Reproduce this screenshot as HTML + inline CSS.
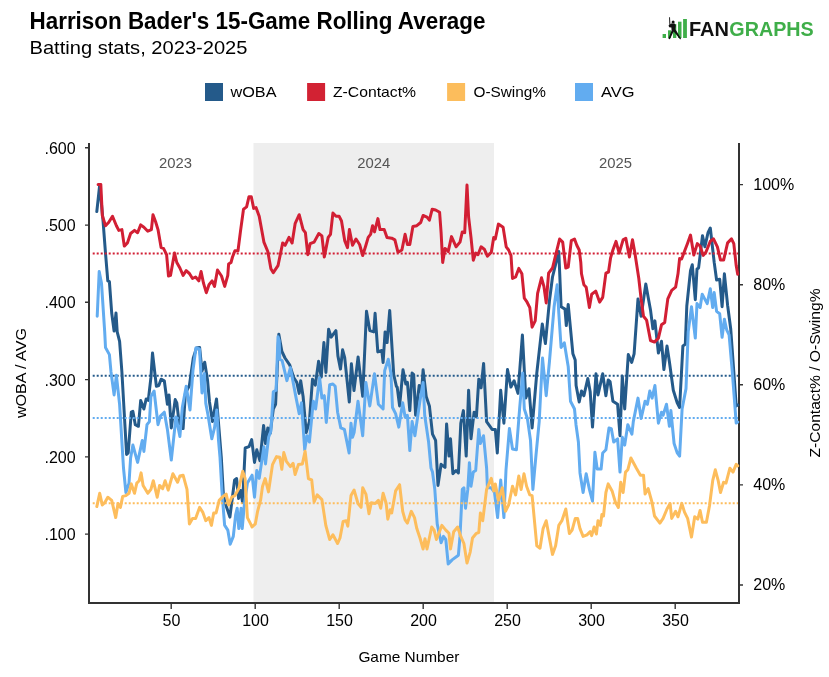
<!DOCTYPE html>
<html><head><meta charset="utf-8"><style>
html,body{margin:0;padding:0;background:#fff;}
body{width:829px;height:677px;overflow:hidden;}
svg{display:block;will-change:transform;font-family:"Liberation Sans",sans-serif;}
</style></head><body>
<svg width="829" height="677" viewBox="0 0 829 677">
<rect x="0" y="0" width="829" height="677" fill="#fff"/>
<text x="29.5" y="29" font-size="24.5" font-weight="bold" fill="#000" textLength="456" lengthAdjust="spacingAndGlyphs">Harrison Bader's 15-Game Rolling Average</text>
<text x="29.5" y="53.8" font-size="19" fill="#000" textLength="218" lengthAdjust="spacingAndGlyphs">Batting stats, 2023-2025</text>
<!-- logo -->
<g fill="#3fae49">
<rect x="662.6" y="34" width="3.4" height="4"/>
<rect x="668" y="30.3" width="3" height="7.7"/>
<rect x="673" y="24" width="3.3" height="14"/>
<rect x="678" y="21.7" width="3.5" height="16.3"/>
<rect x="683.1" y="19" width="3.8" height="19"/>
</g>
<g fill="#111">
<path d="M669.1,17.3 L670,17.3 L670.4,25 L669.4,25 Z"/>
<circle cx="673.1" cy="22" r="1.5"/>
<path d="M668.5,25.6 L671.2,23.6 L674.6,23.5 L675.8,25.2 L675.3,29.2 L676.8,31.6 L681,38.5 L680.2,39.5 L675.4,33.6 L673.6,31.6 L669.9,39.2 L668.4,38.8 L671.6,30.6 L671.4,27.6 L669.2,27.2 Z"/>
</g>
<text x="689" y="35.6" font-size="20.5" font-weight="bold" fill="#111" textLength="40" lengthAdjust="spacingAndGlyphs">FAN</text>
<text x="729.3" y="35.6" font-size="20.5" font-weight="bold" fill="#3fae49" textLength="84.5" lengthAdjust="spacingAndGlyphs">GRAPHS</text>
<!-- legend -->
<rect x="205" y="83" width="18" height="18" fill="#245a8a"/>
<text x="230.5" y="97" font-size="15" fill="#000" textLength="46" lengthAdjust="spacingAndGlyphs">wOBA</text>
<rect x="307.1" y="83" width="18" height="18" fill="#d22233"/>
<text x="333" y="97" font-size="15" fill="#000" textLength="83" lengthAdjust="spacingAndGlyphs">Z-Contact%</text>
<rect x="447.1" y="83" width="18" height="18" fill="#fcbd5c"/>
<text x="473.5" y="97" font-size="15" fill="#000" textLength="72.5" lengthAdjust="spacingAndGlyphs">O-Swing%</text>
<rect x="575" y="83" width="18" height="18" fill="#62acf0"/>
<text x="601" y="97" font-size="15" fill="#000" textLength="33.5" lengthAdjust="spacingAndGlyphs">AVG</text>
<!-- shaded 2024 -->
<rect x="253.5" y="143" width="240.5" height="460" fill="#eeeeee"/>
<text x="175.5" y="167.8" font-size="14.5" fill="#555" text-anchor="middle" textLength="33" lengthAdjust="spacingAndGlyphs">2023</text>
<text x="373.8" y="167.8" font-size="14.5" fill="#555" text-anchor="middle" textLength="33" lengthAdjust="spacingAndGlyphs">2024</text>
<text x="615.5" y="167.8" font-size="14.5" fill="#555" text-anchor="middle" textLength="33" lengthAdjust="spacingAndGlyphs">2025</text>
<!-- axes -->
<g stroke="#333" stroke-width="2" fill="none">
<path d="M89 143 V603 H739 V143"/>
</g>
<g stroke="#333" stroke-width="1.4" fill="none">
<path d="M85 147.8 H89 M85 225.1 H89 M85 302.3 H89 M85 379.6 H89 M85 456.9 H89 M85 534.1 H89"/>
<path d="M739 184.6 H743 M739 284.7 H743 M739 384.8 H743 M739 484.9 H743 M739 585 H743"/>
<path d="M171.2 603 V609 M255.2 603 V609 M339.2 603 V609 M423.2 603 V609 M507.2 603 V609 M591.2 603 V609 M675.2 603 V609"/>
</g>
<g font-size="16" fill="#000" text-anchor="end">
<text x="75.6" y="153.8">.600</text>
<text x="75.6" y="231.1">.500</text>
<text x="75.6" y="308.3">.400</text>
<text x="75.6" y="385.6">.300</text>
<text x="75.6" y="462.9">.200</text>
<text x="75.6" y="540.1">.100</text>
</g>
<g font-size="16" fill="#000">
<text x="753.3" y="189.9">100%</text>
<text x="753.3" y="290.0">80%</text>
<text x="753.3" y="390.1">60%</text>
<text x="753.3" y="490.2">40%</text>
<text x="753.3" y="590.3">20%</text>
</g>
<g font-size="16" fill="#000" text-anchor="middle">
<text x="171.5" y="625.8">50</text>
<text x="255.5" y="625.8">100</text>
<text x="339.5" y="625.8">150</text>
<text x="423.5" y="625.8">200</text>
<text x="507.5" y="625.8">250</text>
<text x="591.5" y="625.8">300</text>
<text x="675.5" y="625.8">350</text>
</g>
<text x="408.9" y="662.4" font-size="14.5" fill="#000" text-anchor="middle" textLength="101" lengthAdjust="spacingAndGlyphs">Game Number</text>
<text transform="translate(26.2,373.1) rotate(-90)" font-size="15.5" fill="#000" text-anchor="middle" textLength="90" lengthAdjust="spacingAndGlyphs">wOBA / AVG</text>
<text transform="translate(820.2,373) rotate(-90)" font-size="15.5" fill="#000" text-anchor="middle" textLength="169" lengthAdjust="spacingAndGlyphs">Z-Contact% / O-Swing%</text>

<g fill="none" stroke-width="3" stroke-linejoin="round" stroke-linecap="round">
<path d="M96.8,211.6 L99.7,184.9 L103.1,221.7 L105.5,253.1 L107.8,280.9 L109.4,281.7 L111.7,313.0 L114.1,331.1 L116.0,313.0 L117.2,331.9 L119.6,341.3 L121.9,372.0 L126.6,454.5 L128.2,453.0 L131.3,412.2 L132.9,411.4 L135.3,424.7 L138.4,426.3 L140.7,400.4 L143.9,409.0 L146.2,398.9 L148.3,400.4 L150.9,377.7 L152.5,353.0 L156.4,386.3 L158.8,385.5 L161.1,379.2 L164.3,380.8 L167.4,404.3 L169.0,394.9 L171.3,427.9 L175.2,399.6 L176.8,402.8 L179.2,423.9 L181.5,421.6 L183.1,428.6 L185.4,393.4 L189.4,385.5 L193.3,358.0 L196.5,348.0 L199.6,347.5 L202.0,371.0 L204.7,362.3 L207.5,380.0 L209.5,401.9 L212.5,421.6 L216.5,398.9 L218.4,421.6 L221.3,457.3 L223.3,493.2 L224.6,501.2 L229.9,517.1 L234.6,479.9 L236.6,478.6 L238.6,498.5 L240.6,490.5 L242.6,502.5 L245.2,448.0 L249.0,446.7 L251.7,439.6 L254.5,462.4 L256.8,449.8 L260.0,460.8 L263.6,425.5 L265.5,443.5 L267.8,427.9 L270.2,433.4 L273.3,409.0 L275.6,404.3 L278.8,334.2 L281.9,351.5 L285.0,358.0 L289.8,365.1 L293.7,377.7 L296.8,382.4 L299.2,393.4 L300.7,380.8 L303.1,396.5 L306.2,432.6 L309.4,421.6 L312.5,379.2 L315.3,385.1 L318.6,361.2 L321.2,377.1 L323.9,342.6 L325.9,372.5 L328.6,329.3 L331.2,337.2 L335.9,330.6 L337.9,355.9 L340.5,369.1 L342.6,349.8 L344.7,357.6 L349.3,402.0 L351.4,363.8 L354.0,390.6 L358.1,357.0 L362.7,396.3 L366.5,311.3 L369.8,330.6 L373.8,331.9 L375.1,313.3 L377.8,351.9 L381.8,350.5 L383.1,362.5 L385.1,331.9 L387.1,342.6 L389.7,310.6 L393.7,374.5 L396.4,386.4 L397.2,387.1 L399.6,405.9 L403.0,369.8 L405.8,384.0 L407.4,382.4 L409.8,410.6 L412.1,373.0 L413.7,374.5 L415.6,415.3 L419.2,385.5 L421.5,393.4 L423.1,369.8 L426.2,396.5 L429.4,405.9 L432.5,434.1 L435.6,440.4 L438.0,485.4 L441.1,464.3 L445.0,467.4 L446.6,423.9 L449.0,456.1 L450.5,438.8 L452.9,473.7 L456.0,470.5 L458.4,473.0 L460.8,423.2 L463.4,410.6 L466.2,456.1 L468.6,390.2 L471.0,438.8 L474.1,412.2 L476.4,416.9 L478.8,379.2 L481.1,387.9 L483.6,363.4 L486.6,421.6 L492.1,429.4 L495.3,429.4 L497.3,453.0 L500.7,390.2 L503.9,423.2 L507.5,369.6 L510.9,387.1 L514.1,380.8 L518.0,393.4 L522.4,335.0 L525.8,398.1 L529.0,388.7 L532.1,427.9 L536.8,373.0 L542.3,324.0 L545.4,343.6 L549.4,301.3 L552.5,277.0 L558.8,251.5 L561.1,306.8 L565.0,309.1 L566.3,325.6 L568.2,304.4 L570.5,328.7 L572.9,353.8 L575.2,360.1 L576.1,385.5 L579.2,402.0 L581.5,391.0 L583.9,395.7 L587.8,378.5 L590.2,391.8 L592.5,427.1 L596.0,373.8 L598.0,394.9 L602.7,373.8 L605.9,395.7 L608.2,380.0 L610.1,381.6 L612.9,401.2 L617.6,404.3 L620.0,435.7 L622.3,376.1 L624.7,409.0 L628.3,354.6 L631.7,362.4 L634.1,353.8 L638.0,298.9 L641.1,316.2 L645.8,284.0 L648.2,297.4 L650.5,309.9 L652.9,328.7 L654.9,320.9 L658.4,353.0 L661.5,341.3 L663.9,369.5 L667.0,346.0 L669.4,361.7 L673.3,390.2 L677.2,402.8 L679.6,407.5 L682.9,345.9 L685.3,344.3 L686.8,306.0 L690.5,270.7 L692.3,264.8 L695.3,299.7 L697.0,269.0 L698.6,267.9 L702.5,235.8 L704.9,246.8 L708.0,232.7 L710.3,228.0 L714.2,262.4 L716.6,280.0 L719.7,279.3 L722.1,306.7 L724.4,273.8 L727.6,305.2 L730.7,328.7 L733.8,371.9 L736.2,405.9 L737.8,405.0" stroke="#245a8a"/>
<path d="M92.7 375.8 H738" stroke="#245a8a" stroke-width="2" stroke-dasharray="2,2" stroke-linecap="butt" fill="none"/>
<path d="M97.2,316.2 L99.2,271.5 L101.5,283.2 L104.7,331.9 L105.5,347.5 L109.4,354.6 L111.0,372.0 L114.1,394.9 L116.4,375.3 L119.6,404.3 L123.5,468.0 L125.9,492.5 L129.0,483.1 L130.6,458.0 L132.9,445.1 L137.6,462.4 L142.3,440.4 L143.9,451.4 L147.0,424.7 L149.4,421.6 L150.9,396.5 L154.1,391.0 L158.0,424.7 L160.4,416.1 L164.3,412.2 L167.4,429.4 L171.3,460.0 L176.0,416.9 L179.9,436.5 L182.3,407.5 L186.2,386.3 L190.0,410.0 L193.0,370.0 L195.9,348.0 L199.5,349.0 L202.0,393.0 L204.4,373.5 L205.8,403.4 L208.0,415.0 L211.8,438.8 L214.5,427.9 L216.8,410.0 L218.5,440.0 L220.0,457.3 L221.9,490.5 L224.6,525.1 L227.8,530.1 L230.2,544.2 L233.3,536.4 L235.7,514.5 L237.2,508.2 L238.8,528.6 L241.1,508.2 L242.2,528.6 L244.3,505.0 L247.4,483.1 L252.1,475.2 L254.5,497.2 L256.8,470.5 L259.2,478.4 L263.9,446.7 L265.5,463.9 L268.6,437.3 L270.9,431.0 L273.3,391.8 L276.1,390.2 L278.0,336.8 L279.2,340.4 L279.8,359.3 L282.1,360.5 L286.9,380.6 L290.4,367.6 L295.7,395.9 L299.2,413.7 L301.5,402.8 L304.7,449.8 L307.0,435.7 L309.4,442.0 L313.3,401.2 L315.6,409.0 L319.6,377.7 L321.9,398.1 L324.3,395.7 L326.3,422.4 L329.7,384.7 L332.9,384.0 L335.2,386.3 L337.6,412.2 L340.8,427.9 L344.4,429.4 L349.1,453.0 L351.0,423.2 L352.5,437.3 L354.1,432.6 L358.0,401.2 L362.7,435.7 L365.9,382.4 L369.8,405.9 L374.5,373.8 L378.4,404.3 L383.1,409.0 L384.7,370.6 L388.3,359.3 L390.9,373.0 L392.5,407.5 L395.6,413.7 L398.8,427.1 L402.7,402.8 L405.1,416.9 L407.4,415.3 L409.8,450.6 L412.1,421.6 L414.9,435.7 L419.9,401.2 L423.1,382.4 L424.7,415.3 L428.6,442.0 L431.0,468.0 L432.5,472.1 L434.8,489.4 L437.2,523.9 L441.1,542.7 L443.5,536.4 L445.8,539.5 L448.2,564.0 L452.1,559.9 L458.4,555.2 L460.0,536.4 L462.3,489.4 L463.9,487.8 L465.5,508.2 L467.8,489.4 L469.4,462.7 L471.0,486.2 L473.3,472.1 L475.7,470.5 L478.8,429.4 L480.4,443.5 L483.5,435.7 L486.6,468.0 L487.4,487.8 L491.3,487.8 L494.5,492.5 L497.6,517.6 L500.7,480.0 L503.9,517.6 L506.0,470.0 L509.4,428.6 L512.5,449.0 L516.4,449.8 L519.6,409.0 L522.7,373.0 L524.3,409.0 L527.4,418.5 L530.5,440.4 L532.9,489.4 L536.0,455.0 L539.2,421.6 L542.5,358.0 L546.2,395.7 L549.4,362.0 L554.1,306.8 L557.2,284.8 L558.8,313.0 L561.1,347.5 L564.3,342.8 L568.2,366.4 L570.5,401.2 L574.5,409.0 L576.0,424.7 L578.4,442.0 L580.0,472.9 L583.1,492.5 L586.2,473.7 L589.4,489.4 L592.5,501.1 L594.9,452.2 L597.2,469.0 L601.1,469.0 L602.7,453.0 L605.9,449.8 L609.0,427.9 L611.3,428.6 L613.7,442.0 L617.6,438.8 L620.0,472.1 L622.3,437.3 L624.7,445.1 L627.8,424.7 L631.9,434.1 L633.3,421.6 L638.0,398.1 L641.1,418.5 L645.1,401.2 L647.4,404.3 L649.8,391.0 L652.1,398.1 L654.9,385.5 L658.4,423.2 L661.5,412.2 L663.1,415.3 L666.5,404.3 L669.4,426.3 L670.9,410.6 L674.1,443.5 L677.2,452.9 L679.6,456.1 L682.1,409.0 L686.0,388.6 L688.2,331.9 L691.5,306.7 L695.3,338.1 L697.0,303.6 L700.1,307.5 L702.2,294.2 L707.2,303.6 L710.3,288.7 L712.7,307.5 L714.2,292.6 L716.6,311.4 L719.7,313.8 L722.1,337.3 L724.4,319.3 L726.8,330.2 L729.1,334.9 L732.3,371.9 L736.2,423.1 L737.8,422.0" stroke="#62acf0"/>
<path d="M92.7 418.1 H738" stroke="#62acf0" stroke-width="2" stroke-dasharray="2,2" stroke-linecap="butt" fill="none"/>
<path d="M98.1,184.4 L100.8,184.4 L102.3,215.5 L105.5,225.7 L108.6,222.5 L112.5,216.3 L116.4,225.7 L118.8,230.4 L121.9,229.6 L124.3,246.1 L127.4,242.9 L130.6,233.5 L134.5,230.4 L137.6,232.7 L140.7,224.9 L143.9,227.2 L147.8,231.2 L151.4,229.6 L153.0,214.7 L155.6,221.7 L158.0,229.6 L161.1,247.6 L163.5,248.4 L166.6,254.7 L168.5,276.0 L170.5,275.4 L174.5,253.1 L176.8,262.5 L179.9,268.0 L183.1,275.4 L186.2,270.7 L189.4,273.5 L192.5,278.5 L195.6,277.0 L198.8,280.9 L201.1,271.5 L203.5,283.2 L206.3,292.7 L209.0,284.8 L212.1,280.9 L214.5,286.4 L217.5,270.0 L221.5,276.0 L224.7,286.4 L227.8,275.4 L228.6,264.1 L231.0,262.5 L232.5,257.0 L234.9,250.8 L238.0,250.8 L240.4,231.9 L243.5,209.2 L246.6,206.9 L249.0,196.7 L251.3,196.7 L253.7,208.4 L256.0,207.6 L259.2,216.3 L263.9,242.1 L267.8,251.5 L270.9,268.8 L273.3,272.7 L278.0,265.7 L282.7,242.9 L285.1,245.3 L289.0,237.4 L292.1,242.9 L295.2,223.3 L299.2,214.7 L303.1,229.6 L305.4,232.7 L307.8,254.7 L310.1,243.7 L314.1,242.1 L318.8,233.5 L321.9,235.9 L324.3,257.0 L328.2,237.4 L330.5,234.3 L332.9,213.1 L336.0,216.3 L339.2,216.3 L341.5,221.0 L344.7,240.6 L347.5,247.6 L349.4,229.6 L352.5,245.3 L356.0,239.0 L359.6,244.5 L362.7,255.5 L365.9,245.3 L368.2,237.4 L370.6,234.3 L372.6,225.7 L374.5,231.9 L377.9,218.6 L380.0,229.6 L384.2,229.6 L387.0,237.4 L391.7,238.2 L394.9,239.8 L398.0,252.3 L401.9,250.0 L405.1,234.3 L407.4,244.5 L409.8,244.5 L412.9,226.5 L416.8,225.7 L420.7,222.5 L423.1,215.5 L427.0,217.1 L429.4,220.2 L432.2,209.2 L435.6,210.0 L439.6,212.3 L441.1,232.7 L442.7,262.5 L445.0,248.4 L448.2,251.5 L451.5,236.6 L456.1,246.8 L460.0,242.1 L462.3,231.9 L464.7,232.7 L467.0,185.0 L468.6,217.0 L471.0,237.4 L473.3,260.2 L475.7,253.1 L478.0,254.7 L481.1,246.8 L484.3,249.2 L487.4,256.2 L491.3,252.3 L493.7,237.4 L495.3,239.0 L498.4,224.1 L503.1,227.2 L506.2,246.8 L508.6,250.0 L511.0,255.5 L512.5,278.5 L515.6,277.0 L518.8,268.4 L521.9,273.8 L524.3,298.1 L526.6,301.3 L529.8,307.6 L532.1,327.2 L535.2,320.9 L537.6,293.4 L541.5,277.8 L543.9,286.4 L546.2,302.9 L548.6,273.1 L552.5,268.0 L559.6,239.0 L562.7,242.1 L565.8,268.0 L568.2,267.2 L571.3,240.6 L574.5,239.0 L576.8,245.3 L579.2,250.0 L580.8,262.5 L581.5,273.8 L583.9,284.8 L586.2,287.2 L589.4,307.6 L591.7,294.2 L595.7,291.1 L599.6,302.1 L602.7,297.4 L605.9,273.1 L608.5,272.0 L610.6,257.8 L612.9,250.0 L616.0,241.4 L619.2,253.1 L623.1,239.8 L625.8,238.2 L629.4,257.0 L632.5,239.8 L634.9,253.1 L638.8,278.5 L641.1,298.9 L643.5,316.2 L646.6,320.1 L650.5,340.5 L654.5,342.1 L658.4,338.1 L661.5,324.8 L664.7,322.5 L667.8,298.9 L671.7,290.3 L675.6,287.2 L678.0,273.8 L679.6,258.6 L681.6,259.0 L685.0,250.0 L687.4,243.7 L690.5,235.1 L693.8,255.0 L697.3,243.6 L700.0,246.0 L703.3,255.4 L706.0,252.0 L710.3,241.3 L713.5,238.9 L717.4,246.8 L720.5,260.1 L723.6,260.1 L727.6,242.9 L731.5,238.9 L733.8,243.6 L736.2,265.6 L737.7,274.2" stroke="#d21f34"/>
<path d="M92.7 253.6 H738" stroke="#d21f34" stroke-width="2" stroke-dasharray="2,2" stroke-linecap="butt" fill="none"/>
<path d="M96.8,506.6 L99.7,493.3 L102.3,505.0 L104.7,502.7 L107.8,497.2 L111.7,500.3 L115.7,517.6 L118.0,503.5 L120.4,507.4 L122.7,496.4 L125.9,495.6 L129.0,493.3 L131.3,483.9 L134.5,493.3 L136.8,483.1 L139.2,480.7 L141.1,472.9 L143.1,485.4 L147.8,493.3 L150.9,489.4 L153.3,480.7 L157.2,497.2 L159.6,485.4 L162.7,488.6 L165.1,480.7 L168.2,490.1 L172.9,473.7 L177.6,482.3 L179.9,476.0 L183.1,475.2 L187.0,489.4 L189.4,523.9 L192.5,518.4 L195.6,518.4 L199.6,507.4 L202.7,512.1 L205.8,520.7 L209.0,517.6 L211.4,525.4 L213.7,512.9 L216.1,512.9 L219.2,500.3 L223.1,496.4 L226.2,494.1 L228.6,505.0 L231.7,497.2 L234.9,495.6 L238.8,488.6 L242.7,471.3 L245.1,478.4 L247.4,517.6 L250.6,523.9 L252.1,527.0 L255.3,523.9 L257.6,511.3 L260.7,499.6 L262.5,486.5 L265.2,478.6 L268.5,491.9 L272.5,464.6 L276.5,456.6 L279.8,457.3 L281.8,469.3 L283.8,452.6 L286.4,461.3 L290.4,466.6 L293.1,463.3 L295.1,474.6 L298.4,464.6 L302.4,463.9 L305.1,451.3 L308.4,478.6 L311.7,480.0 L314.1,501.9 L317.2,494.9 L321.9,499.6 L325.8,525.4 L329.7,539.5 L332.9,534.8 L337.6,543.5 L340.0,538.0 L343.1,521.5 L346.2,520.7 L347.8,526.2 L351.0,495.6 L354.1,490.1 L358.0,503.5 L361.1,507.4 L362.7,487.8 L365.9,494.1 L369.0,513.7 L371.3,502.7 L375.3,503.5 L378.4,500.3 L380.7,508.2 L383.1,493.3 L386.2,503.5 L387.8,519.2 L390.2,509.7 L391.7,512.9 L395.6,490.9 L399.6,484.7 L402.7,511.3 L405.1,519.9 L407.4,523.1 L411.3,511.3 L414.5,517.6 L416.8,528.6 L420.0,538.0 L423.1,549.0 L425.0,538.8 L427.0,549.0 L431.7,527.0 L434.1,530.1 L436.4,539.5 L441.9,525.4 L445.8,530.1 L449.0,533.3 L450.5,549.0 L453.7,531.7 L457.6,527.0 L460.8,536.4 L463.9,543.5 L467.0,563.0 L470.2,552.1 L472.5,538.0 L476.4,533.3 L478.8,532.5 L480.4,512.9 L482.7,520.7 L486.6,489.4 L491.3,478.4 L493.7,490.9 L495.3,483.9 L498.4,500.3 L502.3,487.8 L505.5,511.3 L508.6,505.0 L512.5,486.2 L515.6,494.9 L518.8,476.0 L521.1,489.4 L524.0,473.7 L526.6,486.2 L529.8,494.9 L532.1,495.6 L536.8,545.8 L540.0,548.2 L543.1,528.6 L546.2,520.7 L549.4,538.0 L552.5,554.4 L555.6,545.8 L558.8,525.4 L561.9,520.7 L565.8,509.0 L569.4,533.6 L572.1,530.1 L575.3,518.4 L577.6,518.4 L580.0,528.6 L583.1,536.4 L587.0,534.8 L590.2,531.7 L591.7,535.6 L594.1,527.0 L596.4,534.0 L598.0,520.7 L600.4,525.4 L601.9,514.5 L603.5,516.0 L605.9,492.5 L608.2,483.9 L612.1,490.9 L615.3,501.9 L618.4,507.4 L620.7,482.3 L623.1,492.5 L625.5,472.1 L627.8,469.8 L630.9,458.0 L636.4,468.2 L640.4,475.2 L643.5,475.2 L645.1,494.1 L648.2,488.6 L652.1,502.7 L654.5,516.0 L659.9,523.1 L663.1,518.4 L667.0,509.0 L670.1,503.5 L671.7,518.4 L675.6,511.3 L678.0,516.8 L681.8,503.4 L684.5,512.1 L687.6,518.3 L691.5,537.1 L694.7,516.8 L697.8,519.1 L700.1,510.5 L702.5,522.3 L706.4,522.3 L709.5,505.8 L712.7,480.7 L715.3,469.8 L718.2,480.7 L720.5,492.5 L723.6,482.3 L726.0,483.1 L729.9,468.2 L733.0,472.1 L736.2,464.3 L737.7,465.9" stroke="#fdbd5c"/>
<path d="M92.7 503.2 H738" stroke="#fdbd5c" stroke-width="2" stroke-dasharray="2,2" stroke-linecap="butt" fill="none"/>
</g>

</svg>
</body></html>
